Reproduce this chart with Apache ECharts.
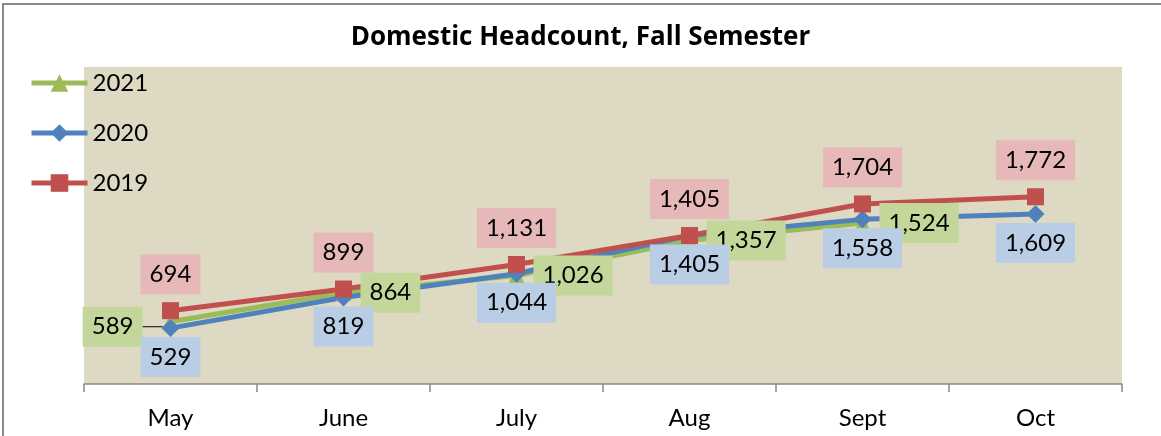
<!DOCTYPE html>
<html>
<head>
    <meta charset="utf-8">
    <title>Domestic Headcount</title>
    <style>
        html, body { margin: 0; padding: 0; background: #fff; }
        #chart { width: 1161px; height: 436px; }
    </style>
</head>
<body>
<div id="chart"></div>
<script src="https://cdn.jsdelivr.net/npm/echarts@6/dist/echarts.min.js"></script>
<script>
    // data
    var months = ['May', 'June', 'July', 'Aug', 'Sept', 'Oct'];
    var years = ['2021', '2020', '2019'];
    var y2021 = [589, 864, 1026, 1357, 1524, null];
    var y2020 = [529, 819, 1044, 1405, 1558, 1609];
    var y2019 = [694, 899, 1131, 1405, 1704, 1772];

    var font = 'Lato';

    function fmt(p) {
        var v = Array.isArray(p.value) ? p.value[1] : p.value;
        return String(v).replace(/\B(?=(\d{3})+(?!\d))/g, ',');
    }

    // the visible line
    function lineSeries(name, values, color, symbol, size) {
        return {
            name: name,
            type: 'line',
            data: values,
            symbol: symbol,
            symbolSize: size,
            z: 2,
            lineStyle: {color: color, width: 5},
            itemStyle: {color: color},
            label: {show: false},
            animation: false,
            silent: true
        };
    }

    // same points again, only for the boxed labels so they sit above every line
    function labelSeries(name, values, size, bg, pos, dist, layout) {
        return {
            name: name + ' labels',
            type: 'line',
            data: values,
            symbol: 'rect',
            symbolSize: size,
            z: 5,
            lineStyle: {opacity: 0},
            itemStyle: {color: 'transparent'},
            labelLine: {show: false},
            labelLayout: layout,
            label: {
                show: true,
                position: pos,
                distance: dist,
                backgroundColor: bg,
                padding: [7, 9],
                color: '#000',
                fontSize: 24,
                fontFamily: font,
                lineHeight: 26,
                formatter: fmt
            },
            animation: false,
            silent: true
        };
    }

    // first green label sits left of its point with a small leader line
    var greenLabelData = y2021.map(function (v, i) {
        if (i !== 0) return v;
        return {
            value: v,
            label: {position: 'left', distance: 4},
            labelLine: {show: true, lineStyle: {color: '#000', width: 1}}
        };
    });
    function greenLayout(p) {
        if (p.dataIndex === 0) return {dx: -16, dy: 5};
        return {};
    }

    var option = {
        backgroundColor: '#fff',
        title: {
            text: 'Domestic Headcount, Fall Semester',
            left: 'center',
            top: 20,
            textStyle: {fontFamily: 'Open Sans', fontSize: 26, fontWeight: 'bold', color: '#000'}
        },
        legend: {
            data: years,
            orient: 'vertical',
            left: 24,
            top: 66,
            itemWidth: 56,
            itemHeight: 22,
            itemGap: 26,
            lineStyle: {width: 5},
            textStyle: {fontFamily: font, fontSize: 24, color: '#000', lineHeight: 20}
        },
        grid: {
            left: 84, right: 39, top: 67, bottom: 52,
            show: true,
            backgroundColor: '#DDD9C3',
            borderWidth: 0
        },
        xAxis: {
            type: 'category',
            data: months,
            boundaryGap: true,
            axisLine: {lineStyle: {color: '#888', width: 1.5}},
            axisTick: {show: true, length: 8, lineStyle: {color: '#888', width: 1.5}},
            axisLabel: {fontFamily: font, fontSize: 24, color: '#000', margin: 22}
        },
        yAxis: {
            type: 'value',
            min: 0,
            max: 3000,
            show: false,
            splitLine: {show: false}
        },
        graphic: [{
            type: 'rect',
            z: -10,
            shape: {x: 3, y: 4, width: 1180, height: 460},
            style: {fill: 'none', stroke: '#888', lineWidth: 2}
        }],
        series: [
            lineSeries('2021', y2021, '#9BBB59', 'triangle', 16),
            lineSeries('2020', y2020, '#4F81BD', 'diamond', 18),
            lineSeries('2019', y2019, '#C0504D', 'rect', 17),
            labelSeries('2021', greenLabelData, 16, '#C4D79B', 'right', 9, greenLayout),
            labelSeries('2020', y2020, 18, '#B9CDE5', 'bottom', 0),
            labelSeries('2019', y2019, 17, '#E6B9B8', 'top', 8)
        ]
    };

    var chart = echarts.init(document.getElementById('chart'));
    chart.setOption(option);
</script>
</body>
</html>
